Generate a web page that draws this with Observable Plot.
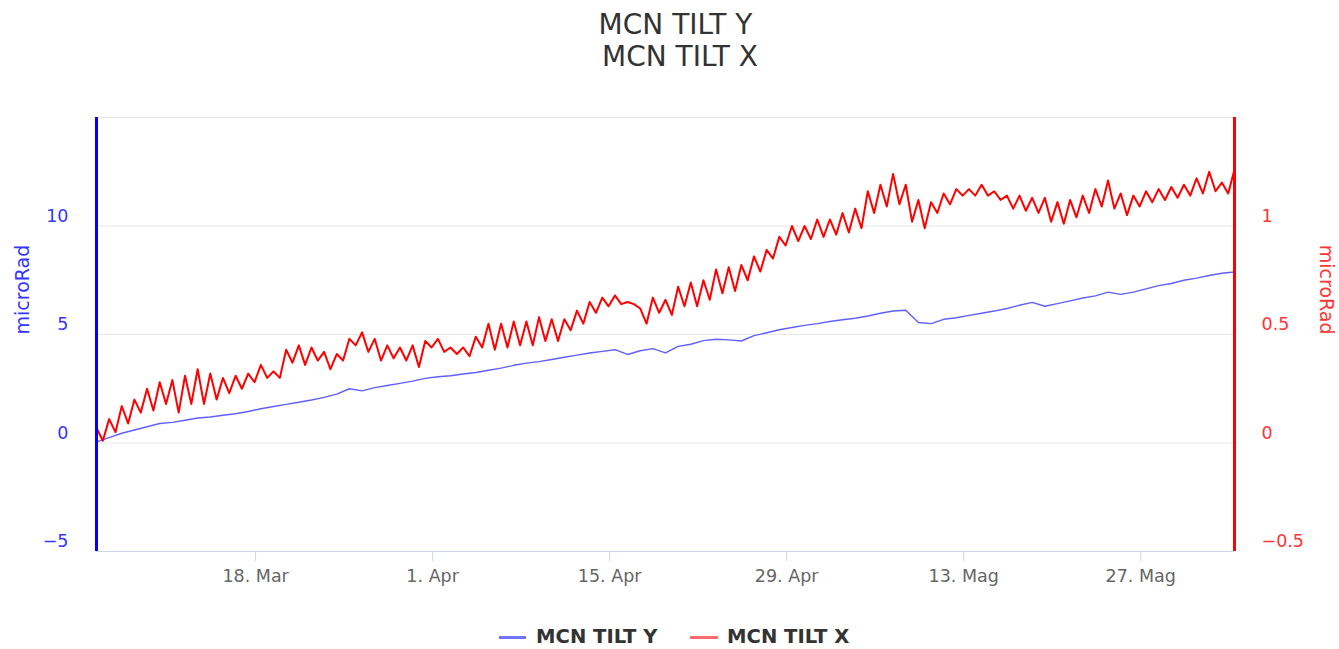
<!DOCTYPE html>
<html>
<head>
<meta charset="utf-8">
<script src="https://cdn.jsdelivr.net/npm/d3@7"></script>
<script src="https://cdn.jsdelivr.net/npm/@observablehq/plot@0.6"></script>
<style>
  html, body { margin: 0; padding: 0; background: #fff; }
  body { width: 1339px; height: 649px; overflow: hidden; position: relative; font-family: "DejaVu Sans", sans-serif; }
  #title { position: absolute; left: 6px; top: 0; width: 1339px; text-align: center; color: #333; font-size: 28px; line-height: 32px; padding-top: 9px; white-space: pre; }
  #chart { position: absolute; left: 0; top: 80px; }
  .sym { position: absolute; height: 3px; top: 636px; }
  .lab { position: absolute; top: 626px; font-size: 19.6px; line-height: 22px; font-weight: bold; color: #333; white-space: nowrap; }
</style>
</head>
<body>
<div id="title"></div>
<div id="chart"></div>
<div id="legend"></div>
<script>
// ---- data ----
const seriesNames = ["MCN TILT Y", "MCN TILT X"];
const startTime = "2019-03-05T10:00:00Z";
const spanDays = 90;

// MCN TILT Y (left axis, microRad), one value per day
const tiltY = [
  0.05,0.25,0.45,0.60,0.75,0.90,0.95,1.05,1.15,1.20,
  1.28,1.35,1.45,1.58,1.68,1.78,1.88,1.98,2.10,2.25,
  2.50,2.40,2.55,2.65,2.75,2.85,2.98,3.05,3.10,3.18,
  3.25,3.35,3.45,3.58,3.68,3.75,3.85,3.95,4.05,4.15,
  4.22,4.30,4.08,4.25,4.35,4.15,4.45,4.55,4.72,4.78,
  4.75,4.70,4.95,5.08,5.22,5.32,5.42,5.50,5.60,5.68,
  5.75,5.85,5.98,6.08,6.12,5.55,5.50,5.70,5.77,5.88,
  5.98,6.08,6.20,6.35,6.48,6.30,6.42,6.55,6.68,6.78,
  6.95,6.85,6.95,7.10,7.25,7.35,7.50,7.60,7.72,7.82,
  7.88
];

// MCN TILT X (right axis, microRad), one value every 12 hours
const tiltX = [
  0.07,0.01, 0.11,0.05, 0.17,0.09, 0.20,0.14, 0.25,0.15, 0.28,0.18, 0.29,0.14, 0.31,0.18, 0.34,0.18, 0.32,0.20,
  0.30,0.23, 0.31,0.25, 0.32,0.28, 0.36,0.30, 0.33,0.30, 0.43,0.37, 0.45,0.36, 0.44,0.38, 0.42,0.34, 0.41,0.38,
  0.48,0.45, 0.51,0.42, 0.48,0.38, 0.45,0.39, 0.44,0.38, 0.45,0.35, 0.47,0.44, 0.48,0.42, 0.44,0.41, 0.44,0.40,
  0.49,0.44, 0.55,0.43, 0.55,0.44, 0.56,0.45, 0.56,0.45, 0.58,0.47, 0.57,0.47, 0.57,0.52, 0.61,0.55, 0.65,0.60,
  0.67,0.63, 0.68,0.64, 0.65,0.64, 0.62,0.55, 0.67,0.60, 0.66,0.59, 0.72,0.63, 0.74,0.63, 0.75,0.66, 0.80,0.69,
  0.81,0.70, 0.82,0.75, 0.86,0.79, 0.89,0.85, 0.95,0.91, 1.00,0.93, 1.00,0.94, 1.03,0.95, 1.03,0.96, 1.06,0.97,
  1.08,0.99, 1.16,1.06, 1.19,1.09, 1.24,1.10, 1.19,1.02, 1.12,0.99, 1.11,1.06, 1.15,1.10, 1.17,1.14, 1.17,1.14,
  1.19,1.14, 1.16,1.12, 1.14,1.08, 1.14,1.07, 1.13,1.06, 1.13,1.02, 1.11,1.01, 1.12,1.04, 1.14,1.06, 1.17,1.09,
  1.21,1.08, 1.15,1.05, 1.14,1.09, 1.16,1.11, 1.17,1.12, 1.18,1.13, 1.19,1.14, 1.22,1.15, 1.25,1.16, 1.20,1.15,
  1.26
];

const xTickDates = ["2019-03-18", "2019-04-01", "2019-04-15", "2019-04-29", "2019-05-13", "2019-05-27"];
const xTickLabels = ["18. Mar", "1. Apr", "15. Apr", "29. Apr", "13. Mag", "27. Mag"];
const leftTicks = [-5, 0, 5, 10];
const rightTicks = [-0.5, 0, 0.5, 1];
const yDomainLeft = [-5, 15];
const rightPerLeft = 0.1; // right axis value = left axis value * 0.1
const axisTitle = "microRad";

// ---- build ----
const DAY = 864e5;
const t0 = new Date(startTime);
const xDomain = [t0, new Date(+t0 + spanDays * DAY)];
const yData = tiltY.map((v, i) => ({t: new Date(+t0 + i * DAY), v}));
const xData = tiltX.map((v, i) => ({t: new Date(+t0 + i * DAY / 2), v}));
const labelMap = new Map(xTickDates.map((d, i) => [+new Date(d), xTickLabels[i]]));
const minus = s => String(s).replace("-", "\u2212");

document.getElementById("title").textContent = seriesNames[0] + "\n " + seriesNames[1];

const BLUE = "#0000ff", RED = "#ff0000";

const chart = Plot.plot({
  width: 1339,
  height: 520,
  marginTop: 37,
  marginBottom: 49,
  marginLeft: 96,
  marginRight: 105,
  style: {fontFamily: "DejaVu Sans, sans-serif", fontSize: "17.5px", background: "white", overflow: "visible"},
  x: {type: "utc", domain: xDomain},
  y: {domain: yDomainLeft},
  marks: [
    Plot.ruleY([0, 5, 10, 15], {stroke: "#e6e6e6", strokeWidth: 1}),
    Plot.ruleY([yDomainLeft[0]], {stroke: "#ccd6eb", strokeWidth: 1}),
    Plot.axisX({
      ticks: xTickDates.map(d => new Date(d)),
      tickFormat: d => labelMap.get(+d),
      tickSize: 10, tickPadding: 8,
      stroke: "#ccd6eb", strokeOpacity: 1, fill: "#666", label: null
    }),
    Plot.axisY({
      anchor: "left", ticks: leftTicks, tickFormat: d => minus(d),
      tickSize: 0, tickPadding: 28, dy: -10, fill: "#3535ff", label: null
    }),
    Plot.axisY({
      anchor: "right", ticks: rightTicks.map(v => v / rightPerLeft),
      tickFormat: d => minus(+(d * rightPerLeft).toFixed(2)),
      tickSize: 0, tickPadding: 27, dy: -10, fill: "#ff3535", label: null
    }),
    Plot.line(yData, {x: "t", y: "v", stroke: "#6060ff", strokeWidth: 1.4}),
    Plot.line(xData, {x: "t", y: d => d.v / rightPerLeft, stroke: RED, strokeWidth: 2, strokeLinejoin: "round"}),
    Plot.ruleX([xDomain[0]], {stroke: BLUE, strokeWidth: 3}),
    Plot.ruleX([xDomain[1]], {stroke: RED, strokeWidth: 3}),
    Plot.text([axisTitle], {text: d => d, frameAnchor: "left", dx: -74, rotate: -90, fill: "#3535ff", fontSize: 19}),
    Plot.text([axisTitle], {text: d => d, frameAnchor: "right", dx: 92, rotate: 90, fill: "#ff3535", fontSize: 19})
  ]
});
document.getElementById("chart").appendChild(chart);

// legend
const legend = document.getElementById("legend");
const legendItems = [
  {name: seriesNames[0], color: "#7272ff", symX: 499, symW: 27, textX: 536},
  {name: seriesNames[1], color: "#ff6a6a", symX: 690, symW: 28, textX: 727}
];
for (const it of legendItems) {
  const s = document.createElement("div");
  s.className = "sym";
  s.style.left = it.symX + "px";
  s.style.width = it.symW + "px";
  s.style.background = it.color;
  legend.appendChild(s);
  const l = document.createElement("div");
  l.className = "lab";
  l.style.left = it.textX + "px";
  l.textContent = it.name;
  legend.appendChild(l);
}
</script>
</body>
</html>
